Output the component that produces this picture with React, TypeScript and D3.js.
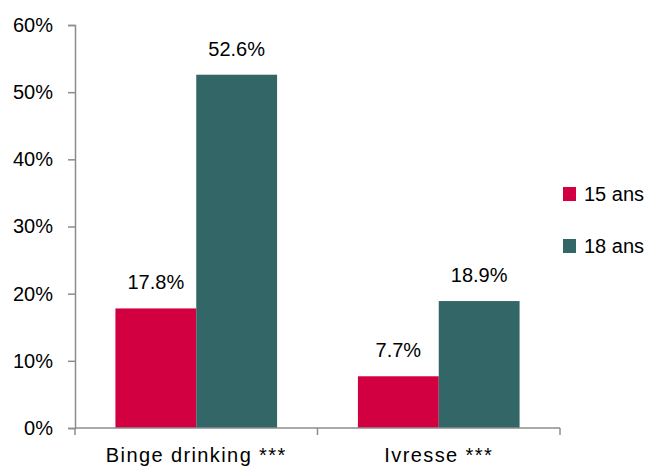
import * as d3 from 'd3';
import {useEffect, useRef} from 'react';

const categories = ['Binge drinking ***', 'Ivresse ***'];
const seriesNames = ['15 ans', '18 ans'];
const values15 = [17.8, 7.7];
const values18 = [52.6, 18.9];
const yTicks = [0, 10, 20, 30, 40, 50, 60];
const colors = ['#d20041', '#336666'];

const width = 651;
const height = 468;
const margin = {top: 25, right: 91, bottom: 40, left: 75};
const font = '"Liberation Sans", Arial, sans-serif';

export default function App() {
	const svgRef = useRef<SVGSVGElement>(null);

	useEffect(() => {
		const svg = d3.select(svgRef.current);
		svg.selectAll('*').remove();

		const innerH = height - margin.top - margin.bottom;
		const x0 = d3.scaleBand().domain(categories).range([margin.left, width - margin.right]).padding(0);
		const x1 = d3.scaleBand().domain(seriesNames).range([0, x0.bandwidth()]).paddingInner(0).paddingOuter(0.5);
		const y = d3.scaleLinear().domain([0, 60]).range([margin.top + innerH, margin.top]);

		const rows = categories.map((c, i) => ({cat: c, vals: [values15[i], values18[i]]}));

		// y axis
		const yAxis = svg
			.append('g')
			.attr('transform', `translate(${margin.left},0)`)
			.call(
				d3
					.axisLeft(y)
					.tickValues(yTicks)
					.tickSize(7)
					.tickPadding(15)
					.tickFormat((d) => `${d}%`)
			);
		yAxis.select('.domain').attr('stroke', '#8c8c8c').attr('stroke-width', 1.5);
		yAxis.selectAll('.tick line').attr('stroke', '#8c8c8c').attr('stroke-width', 1.5);
		yAxis.selectAll('.tick text').attr('font-family', font).attr('font-size', 20).attr('fill', '#000');

		// bars
		const groups = svg
			.append('g')
			.selectAll('g')
			.data(rows)
			.join('g')
			.attr('transform', (d) => `translate(${x0(d.cat)},0)`);

		groups
			.selectAll('rect')
			.data((d) => d.vals.map((v, i) => ({name: seriesNames[i], v, i})))
			.join('rect')
			.attr('x', (d) => x1(d.name)!)
			.attr('width', x1.bandwidth())
			.attr('y', (d) => y(d.v))
			.attr('height', (d) => y(0) - y(d.v))
			.attr('fill', (d) => colors[d.i]);

		groups
			.selectAll('text')
			.data((d) => d.vals.map((v, i) => ({name: seriesNames[i], v, i})))
			.join('text')
			.attr('x', (d) => x1(d.name)! + x1.bandwidth() / 2)
			.attr('y', (d) => y(d.v) - 19)
			.attr('text-anchor', 'middle')
			.attr('font-family', font)
			.attr('font-size', 20)
			.attr('fill', '#000')
			.text((d) => `${d.v.toFixed(1)}%`);

		// x axis
		const xAxisG = svg.append('g').attr('transform', `translate(0,${y(0)})`);
		xAxisG
			.append('line')
			.attr('x1', margin.left)
			.attr('x2', width - margin.right)
			.attr('stroke', '#8c8c8c')
			.attr('stroke-width', 1.5);
		const edges = [...categories.map((c) => x0(c)!), width - margin.right];
		xAxisG
			.selectAll('.xtick')
			.data(edges)
			.join('line')
			.attr('class', 'xtick')
			.attr('x1', (d) => d)
			.attr('x2', (d) => d)
			.attr('y1', 0)
			.attr('y2', 7)
			.attr('stroke', '#8c8c8c')
			.attr('stroke-width', 1.5);
		xAxisG
			.selectAll('.xlabel')
			.data(categories)
			.join('text')
			.attr('class', 'xlabel')
			.attr('x', (d) => x0(d)! + x0.bandwidth() / 2)
			.attr('y', 34)
			.attr('text-anchor', 'middle')
			.attr('font-family', font)
			.attr('font-size', 20)
			.attr('letter-spacing', 1.4)
			.attr('fill', '#000')
			.text((d) => d);

		// legend
		const legend = svg
			.append('g')
			.selectAll('g')
			.data(seriesNames)
			.join('g')
			.attr('transform', (_, i) => `translate(563,${187 + i * 52})`);
		legend
			.append('rect')
			.attr('width', 13)
			.attr('height', 14)
			.attr('fill', (_, i) => colors[i]);
		legend
			.append('text')
			.attr('x', 21)
			.attr('y', 14)
			.attr('font-family', font)
			.attr('font-size', 20)
			.attr('fill', '#000')
			.text((d) => d);
	}, []);

	return (
		<svg
			ref={svgRef}
			width={width}
			height={height}
			style={{position: 'absolute', left: 0, top: 0, background: '#fff'}}
		/>
	);
}
